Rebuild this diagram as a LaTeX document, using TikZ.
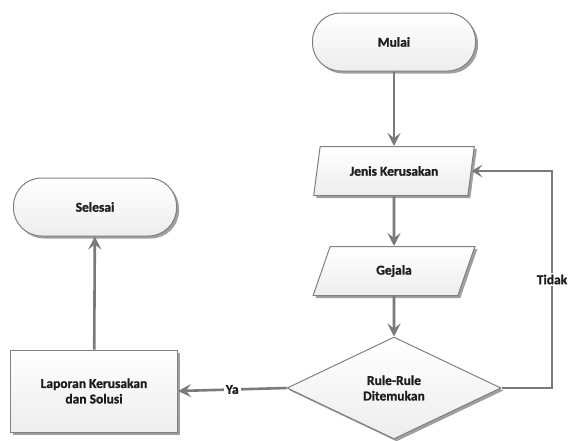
\documentclass[tikz,border=0pt]{standalone}
\usepackage{fontspec}
\setmainfont{Carlito}[BoldFeatures={FakeBold=1.2}]
\usetikzlibrary{shapes.geometric,shadows,arrows.meta}
\definecolor{edgegray}{HTML}{808080}
\definecolor{linegray}{HTML}{7A7A7A}
\definecolor{txt}{HTML}{1E1E1E}
\tikzset{
  box/.style={draw=edgegray, line width=1pt, top color=white, bottom color=gray!14,
    drop shadow={shadow xshift=2.5pt, shadow yshift=-2.5pt, fill=gray!75, opacity=1},
    font=\bfseries\fontsize{13.5}{15.5}\selectfont, text=txt, align=center, inner sep=0pt},
  term/.style={box, rectangle, rounded corners=28pt, minimum width=163pt, minimum height=58pt},
  para/.style={box, trapezium, trapezium left angle=68, trapezium right angle=112,
    trapezium stretches=true, minimum width=162pt, minimum height=49pt},
  proc/.style={box, rectangle, minimum width=167pt, minimum height=82pt},
  dec/.style={box, diamond, minimum width=214pt, minimum height=102pt},
  flow/.style={draw=linegray, line width=2.6pt, -{Stealth[length=13pt,width=13pt,inset=5pt]}},
  thinflow/.style={draw=linegray, line width=1.6pt, -{Stealth[length=11pt,width=13pt,inset=5pt]}},
  lbl/.style={fill=white, font=\bfseries\fontsize{13.5}{15.5}\selectfont, text=txt, inner sep=2pt}
}
\begin{document}
\begin{tikzpicture}[x=1pt,y=-1pt]
\useasboundingbox (0,0) rectangle (574,440);
\node[term] (mulai) at (394,42) {Mulai};
\node[para] (jenis) at (394,171) {Jenis Kerusakan};
\node[para] (gejala) at (394,271) {Gejala};
\node[dec] (rule) at (394,388) {Rule-Rule\\Ditemukan};
\node[term] (selesai) at (95,207) {Selesai};
\node[proc] (lap) at (94,391) {Laporan Kerusakan\\dan Solusi};
\coordinate (loop) at (552,388);
\draw[flow] (mulai) -- (jenis);
\draw[flow] (jenis) -- (gejala);
\draw[flow] (gejala) -- (rule);
\draw[flow] (lap) -- (selesai);
\draw[flow] (rule.west) -- node[lbl]{Ya} (lap.east);
\draw[thinflow] (rule.east) -- (loop) |- node[lbl, pos=0.25]{Tidak} (jenis.east);
\end{tikzpicture}
\end{document}
